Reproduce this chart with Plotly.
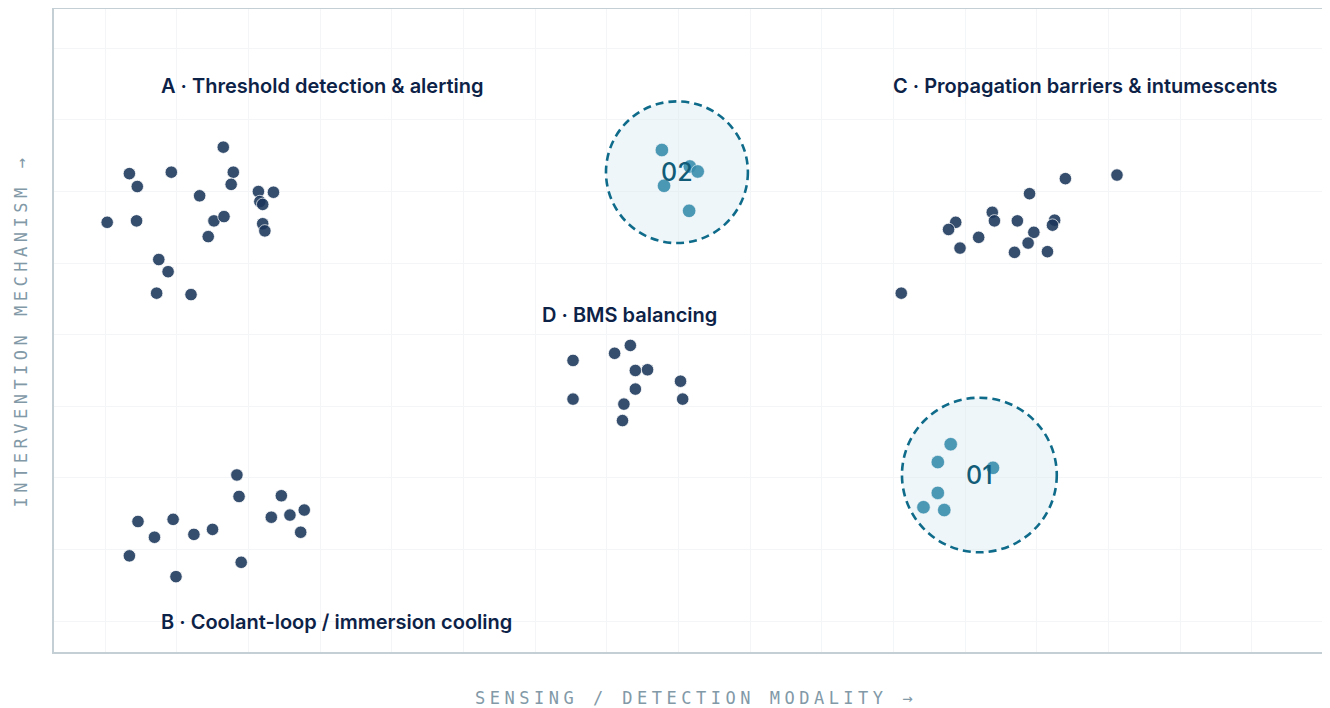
import plotly.graph_objects as go

# ---- data (grid units: 10 per grid cell) ----
cluster_names = ["A · Threshold detection & alerting",
                 "B · Coolant-loop / immersion cooling",
                 "C · Propagation barriers & intumescents",
                 "D · BMS balancing"]
label_x = [7.6, 7.6, 109.6, 60.7]
label_y = [74.8, -0.1, 74.8, 42.8]

a_x = [16.5, 3.4, 9.25, 17.9, 4.5, 17.6, 13.2, 21.4, 23.5, 21.6, 22.0, 0.3, 4.4, 15.2, 16.6, 22.0, 22.3, 14.4, 7.5, 8.8, 7.2, 12.0]
a_y = [66.2, 62.5, 62.7, 62.7, 60.7, 61.0, 59.4, 60.0, 59.9, 58.6, 58.2, 55.7, 55.9, 55.9, 56.5, 55.5, 54.5, 53.7, 50.5, 48.8, 45.8, 45.6]

b_x = [18.4, 18.7, 24.6, 4.6, 9.5, 23.2, 25.8, 27.8, 6.9, 12.4, 15.0, 27.3, 3.4, 19.0, 9.9]
b_y = [20.4, 17.4, 17.5, 13.9, 14.2, 14.5, 14.8, 15.5, 11.7, 12.1, 12.8, 12.4, 9.1, 8.2, 6.2]

c_x = [141.2, 134.0, 129.0, 123.8, 118.7, 124.1, 127.3, 132.5, 132.2, 117.7, 129.6, 121.9, 128.8, 119.3, 126.9, 131.5, 111.1]
c_y = [62.3, 61.8, 59.7, 57.1, 55.7, 55.9, 55.9, 56.0, 55.3, 54.7, 54.3, 53.6, 52.8, 52.1, 51.5, 51.6, 45.8]

d_x = [73.3, 71.1, 65.3, 74.0, 75.7, 80.3, 74.0, 65.3, 80.6, 72.4, 72.2]
d_y = [38.5, 37.4, 36.4, 35.0, 35.1, 33.5, 32.4, 31.0, 31.0, 30.3, 28.0]

hl_x = [77.7, 81.6, 82.7, 78.0, 81.5, 118.0, 116.2, 123.9, 116.2, 114.2, 117.1]
hl_y = [65.8, 63.5, 62.8, 60.8, 57.3, 24.7, 22.2, 21.4, 17.9, 15.9, 15.5]

ring_labels = ["02", "01"]
ring_x = [79.8, 122.0]
ring_y = [62.7, 20.4]
ring_r = [9.9, 10.8]

x_title = "SENSING / DETECTION MODALITY →"
y_title = "INTERVENTION MECHANISM →"

# ---- styles ----
NAVY = "#1a365a"
TEAL = "#3a8eae"
RING = "#0f6b8a"
LABEL = "#0d2247"
AXT = "#8299a7"
MONO = "DejaVu Sans Mono, Liberation Mono, monospace"

fig = go.Figure()

for xs, ys in [(a_x, a_y), (b_x, b_y), (c_x, c_y), (d_x, d_y)]:
    fig.add_trace(go.Scatter(x=xs, y=ys, mode="markers",
                             marker=dict(size=12.5, color=NAVY, opacity=0.88,
                                         line=dict(color="white", width=0.8)),
                             showlegend=False, hoverinfo="skip"))

fig.add_trace(go.Scatter(x=hl_x, y=hl_y, mode="markers",
                         marker=dict(size=13.5, color=TEAL, opacity=0.9,
                                     line=dict(color="white", width=0.6)),
                         showlegend=False, hoverinfo="skip"))

for cx, cy, r, lab in zip(ring_x, ring_y, ring_r, ring_labels):
    fig.add_shape(type="circle", xref="x", yref="y",
                  x0=cx - r, x1=cx + r, y0=cy - r, y1=cy + r,
                  line=dict(color=RING, width=2.6, dash="8px,5px"),
                  fillcolor="rgba(214,232,240,0.4)", layer="between")
    fig.add_annotation(x=cx, y=cy, text=lab, showarrow=False,
                       font=dict(family="Inter", size=25, color="#125c78", weight=500),
                       xanchor="center", yanchor="middle")

for name, lx, ly in zip(cluster_names, label_x, label_y):
    fig.add_annotation(x=lx, y=ly, text=name, showarrow=False,
                       xanchor="left", yanchor="middle",
                       font=dict(family="Inter", size=20, color=LABEL, weight=600))

fig.add_annotation(xref="paper", yref="paper", x=0.5, y=0, yshift=-46,
                   xanchor="center", yanchor="middle", showarrow=False,
                   text='<span style="letter-spacing:4.5px">' + x_title + '</span>',
                   font=dict(family=MONO, size=17, color=AXT))
fig.add_annotation(xref="paper", yref="paper", x=0, y=0.5, xshift=-34,
                   xanchor="center", yanchor="middle", showarrow=False, textangle=-90,
                   text='<span style="letter-spacing:4.5px">' + y_title + '</span>',
                   font=dict(family=MONO, size=17, color=AXT))

fig.update_xaxes(range=[-7.12, 172.04], tick0=0, dtick=10, showgrid=True,
                 gridcolor="#f3f5f7", gridwidth=1, zeroline=False,
                 showticklabels=False, ticks="", showline=True,
                 linecolor="#c3ced5", linewidth=2, mirror=True)
fig.update_yaxes(range=[-4.33, 85.5], tick0=0, dtick=10, showgrid=True,
                 gridcolor="#f3f5f7", gridwidth=1, zeroline=False,
                 showticklabels=False, ticks="", showline=True,
                 linecolor="#c3ced5", linewidth=2, mirror=False)

fig.update_layout(width=1330, height=708,
                  margin=dict(l=46, r=0, t=1, b=64),
                  paper_bgcolor="white", plot_bgcolor="white",
                  showlegend=False)

fig.write_html("out.html")
